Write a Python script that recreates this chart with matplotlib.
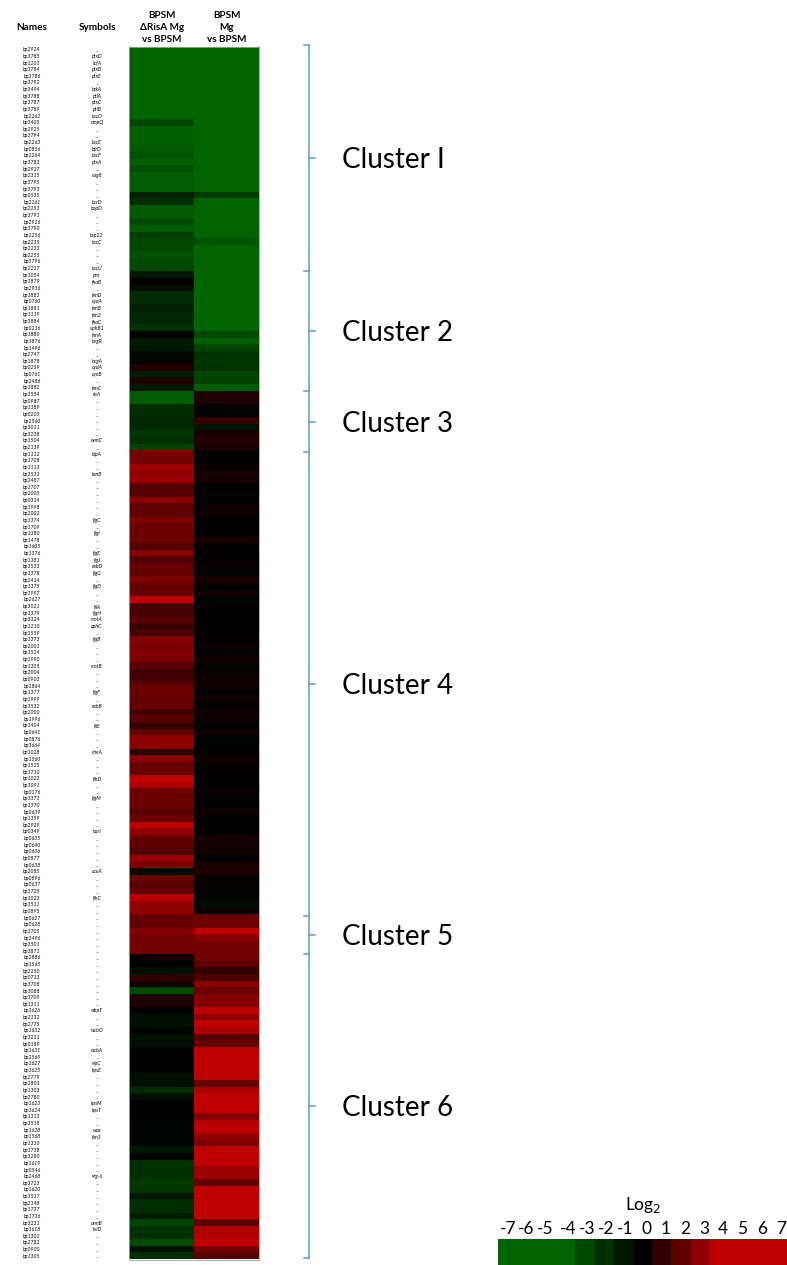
import matplotlib
matplotlib.use("Agg")
import matplotlib.pyplot as plt
import numpy as np
from matplotlib.colors import LinearSegmentedColormap, Normalize

plt.rcParams["font.family"] = ["Lato", "DejaVu Sans"]

names = [
    "bp2924", "bp3785", "bp1201", "bp3784", "bp3786", "bp3792", "bp3494", "bp3788", "bp3787", "bp3789",
    "bp2262", "bp3405", "bp2925", "bp3794", "bp2263", "bp0856", "bp2264", "bp3783", "bp2927", "bp2315",
    "bp3795", "bp3793", "bp0535", "bp2261", "bp2253", "bp3791", "bp2926", "bp3790", "bp2256", "bp2235",
    "bp2233", "bp2255", "bp3796", "bp2237", "bp1054", "bp1879", "bp2936", "bp1883", "bp0760", "bp1881",
    "bp1119", "bp1884", "bp0216", "bp1880", "bp1876", "bp1496", "bp2747", "bp1878", "bp0259", "bp0761",
    "bp2486", "bp1882", "bp3554", "bp0987", "bp1189", "bp0205", "bp2560", "bp3011", "bp3238", "bp1504",
    "bp2139", "bp1112", "bp1708", "bp1113", "bp3531", "bp2487", "bp1707", "bp2005", "bp0314", "bp1998",
    "bp2002", "bp1374", "bp1709", "bp1380", "bp1478", "bp1605", "bp1376", "bp1381", "bp3533", "bp1378",
    "bp2414", "bp1375", "bp1997", "bp2627", "bp3021", "bp1379", "bp3324", "bp1210", "bp1559", "bp1373",
    "bp2001", "bp1524", "bp1990", "bp1325", "bp2004", "bp0903", "bp1864", "bp1377", "bp1999", "bp3532",
    "bp2000", "bp1996", "bp1404", "bp0641", "bp0876", "bp3664", "bp1028", "bp1560", "bp1525", "bp1710",
    "bp1022", "bp1091", "bp0176", "bp1371", "bp1370", "bp0639", "bp1359", "bp2929", "bp0349", "bp0635",
    "bp0640", "bp0636", "bp0877", "bp0638", "bp2085", "bp0896", "bp0637", "bp3725", "bp1023", "bp3511",
    "bp0895", "bp0627", "bp0628", "bp1705", "bp2496", "bp3501", "bp3871", "bp2886", "bp1565", "bp2150",
    "bp0713", "bp3708", "bp3088", "bp3709", "bp1311", "bp1626", "bp2132", "bp2775", "bp1632", "bp3221",
    "bp0189", "bp1631", "bp2569", "bp1627", "bp1625", "bp2779", "bp2803", "bp1303", "bp2780", "bp1623",
    "bp1624", "bp1313", "bp3518", "bp1628", "bp1568", "bp1310", "bp1738", "bp3280", "bp1619", "bp0546",
    "bp2468", "bp3723", "bp1620", "bp3517", "bp2148", "bp1737", "bp1736", "bp3231", "bp1618", "bp1302",
    "bp2782", "bp0900", "bp1305",
]

symbols = [
    "–", "ptxD", "tcfA", "ptxB", "ptxE", "–", "brkA", "ptlA", "ptxC", "ptlB",
    "bscD", "ompQ", "–", "–", "bscE", "bfrD", "bscF", "ptxA", "–", "vag8",
    "–", "–", "–", "bcrD", "bopD", "–", "–", "–", "bsp22", "bscC",
    "–", "–", "–", "bscU", "prn", "fhaB", "–", "fimD", "cyoA", "fimB",
    "fim2", "fhaC", "sphB1", "fimA", "bvgR", "–", "–", "bvgA", "cydA", "cyoB",
    "–", "fimC", "risA", "–", "–", "–", "–", "–", "–", "osmC",
    "–", "bipA", "–", "–", "tonB", "–", "–", "–", "–", "–",
    "–", "flgC", "–", "flgI", "–", "–", "flgE", "flgJ", "exbD", "flgG",
    "–", "flgD", "–", "–", "fliA", "flgH", "motA", "aphC", "–", "flgB",
    "–", "–", "–", "motB", "–", "–", "–", "flgF", "–", "exbB",
    "–", "–", "fliE", "–", "–", "–", "cheA", "–", "–", "–",
    "flhD", "–", "–", "flgM", "–", "–", "–", "–", "hurI", "–",
    "–", "–", "–", "–", "aceA", "–", "–", "–", "flhC", "–",
    "–", "–", "–", "–", "–", "–", "–", "–", "–", "–",
    "–", "–", "–", "–", "–", "wbpT", "–", "–", "wcbO", "–",
    "–", "wcbA", "–", "vipC", "kpsE", "–", "–", "–", "–", "kpsM",
    "kpsT", "–", "–", "wza", "fim3", "–", "–", "–", "–", "–",
    "vrg-6", "–", "–", "–", "–", "–", "–", "osmB", "tviD", "–",
    "–", "–", "–",
]

# log2 ratio, BPSM dRisA Mg vs BPSM
risa_mg = [
    -4.0, -4.0, -4.0, -4.0, -4.0, -4.0, -4.0, -4.0, -4.0, -4.0,
    -4.0, -2.9, -3.9, -3.9, -3.9, -3.6, -3.3, -3.8, -3.2, -3.7,
    -3.7, -3.7, -1.4, -1.9, -3.6, -3.6, -3.0, -3.7, -2.5, -2.9,
    -3.0, -3.3, -3.0, -3.0, -1.0, 0.2, -0.6, -1.7, -1.7, -1.3,
    -1.6, -1.6, -2.0, 0.0, -1.0, -1.0, -0.3, -0.2, 0.7, -1.2,
    0.6, -1.0, -3.7, -3.7, -1.8, -1.8, -1.6, -1.6, -2.2, -1.9,
    -2.8, 2.5, 2.4, 3.3, 3.0, 3.2, 1.7, 1.8, 2.8, 2.0,
    2.0, 2.6, 2.2, 2.2, 2.2, 1.7, 2.9, 1.7, 2.1, 2.1,
    2.6, 2.1, 2.1, 4.0, 1.4, 1.5, 1.9, 1.2, 1.5, 2.8,
    2.5, 2.8, 2.5, 1.9, 1.3, 1.4, 2.0, 2.2, 2.1, 2.1,
    1.4, 1.9, 1.0, 2.1, 3.0, 2.9, 0.9, 2.9, 2.1, 2.1,
    4.0, 3.6, 2.2, 2.2, 2.2, 1.8, 2.3, 4.0, 3.0, 2.1,
    2.0, 1.7, 3.2, 2.5, -0.5, 2.3, 1.8, 2.1, 3.9, 3.0,
    3.0, 2.1, 2.1, 2.7, 2.4, 2.4, 2.4, 0.0, 0.0, -0.6,
    1.0, 0.4, -3.0, 0.7, 0.6, -0.1, -0.6, -0.6, -0.2, -0.8,
    -0.6, -0.1, -0.1, -0.1, -0.1, -0.6, -0.6, -1.8, -0.6, 0.0,
    0.0, 0.0, -0.2, -0.2, -0.2, -0.2, -1.0, -0.2, -1.9, -1.9,
    -1.9, -2.4, -2.2, -0.9, -1.8, -1.8, -1.2, -2.8, -2.0, -2.0,
    -3.0, -0.7, -1.9,
]

# log2 ratio, BPSM Mg vs BPSM
bpsm_mg = [
    -4.0, -4.0, -4.0, -4.0, -4.0, -4.0, -4.0, -4.0, -4.0, -4.0,
    -4.0, -4.0, -4.0, -4.0, -4.0, -4.0, -4.0, -4.0, -4.0, -4.0,
    -4.0, -4.0, -2.4, -4.0, -4.0, -4.0, -4.0, -4.0, -4.0, -3.3,
    -4.0, -4.0, -4.0, -4.0, -4.0, -4.0, -4.0, -4.0, -4.0, -4.0,
    -4.0, -4.0, -4.0, -3.0, -3.8, -2.8, -2.0, -2.2, -2.0, -2.8,
    -2.7, -3.6, 0.7, 0.7, -0.2, 0.0, 1.2, -0.8, 0.5, 0.8,
    0.6, -0.1, 0.0, 0.2, 0.5, 0.4, 0.0, -0.2, 0.0, 0.2,
    0.3, 0.0, 0.0, 0.0, 0.5, 0.1, 0.0, 0.1, 0.2, -0.1,
    0.5, 0.1, 0.4, -0.2, 0.1, 0.0, 0.0, 0.0, 0.1, 0.1,
    0.3, 0.1, 0.4, -0.2, 0.2, 0.3, 0.3, 0.0, 0.3, 0.1,
    0.3, 0.3, 0.0, 0.4, -0.2, -0.1, -0.1, 0.3, 0.1, 0.1,
    -0.1, 0.0, 0.2, 0.0, 0.0, 0.3, 0.0, 0.0, 0.0, 0.4,
    0.4, 0.4, 0.0, 0.5, 0.6, 0.0, 0.2, -0.1, -0.2, -0.5,
    0.3, 2.3, 2.3, 4.0, 2.8, 2.4, 2.4, 2.3, 1.9, 1.1,
    1.6, 2.9, 2.2, 2.7, 2.7, 4.0, 2.9, 4.0, 3.5, 1.7,
    2.1, 4.0, 4.0, 4.0, 4.0, 4.0, 2.2, 3.6, 4.0, 4.0,
    4.0, 2.7, 3.8, 4.0, 3.0, 2.6, 4.0, 4.0, 4.0, 3.2,
    3.2, 2.1, 4.0, 4.0, 4.0, 4.0, 4.0, 2.0, 3.7, 3.7,
    4.0, 2.4, 1.8,
]

legend_values = [-7, -6, -5, -4, -3, -2, -1, 0, 1, 2, 3, 4, 5, 6, 7]
legend_label_x = [508, 526, 545, 568, 587, 606.5, 625, 646.5, 665.5, 685, 704, 723, 742.5, 762, 781.5]

clusters = ["Cluster I", "Cluster 2", "Cluster 3", "Cluster 4", "Cluster 5", "Cluster 6"]
cluster_edges = [45, 271, 391, 452, 916, 954, 1258]

W, H = 787, 1265
BLUE = "#5b9bd5"

cmap = LinearSegmentedColormap.from_list("gbr", [(0, 100 / 255, 0), (0, 0, 0), (192 / 255, 0, 0)])
norm = Normalize(-4, 4)


def main():
    fig = plt.figure(figsize=(W / 100, H / 100), dpi=100)

    # heatmap
    ax = fig.add_axes([129 / W, 1 - 1259.5 / H, 130 / W, 1213 / H])
    data = np.column_stack([risa_mg, bpsm_mg])
    ax.imshow(data, aspect="auto", cmap=cmap, norm=norm, interpolation="nearest")
    ax.set_xticks([])
    ax.set_yticks([])
    for s in ax.spines.values():
        s.set_color("#9aa89a")
        s.set_linewidth(0.6)

    trans = ax.get_yaxis_transform()
    for i, (n, sym) in enumerate(zip(names, symbols)):
        ax.text(-0.746, i, n, transform=trans, ha="center", va="center", fontsize=3.7, style="italic")
        dy = 0.3 if sym == "–" else 0
        ax.text(-0.246, i + dy, sym, transform=trans, ha="center", va="center", fontsize=3.7, style="italic")

    # legend strip
    lax = fig.add_axes([498 / W, 0, 289 / W, 26 / H])
    lax.imshow(np.array(legend_values)[None, :], aspect="auto", cmap=cmap, norm=norm, interpolation="nearest")
    lax.axis("off")

    # everything else in pixel coordinates
    over = fig.add_axes([0, 0, 1, 1], facecolor="none")
    over.set_xlim(0, W)
    over.set_ylim(H, 0)
    over.axis("off")

    over.text(32, 28, "Names", ha="center", va="center", fontsize=7.2, fontweight="bold")
    over.text(97, 28, "Symbols", ha="center", va="center", fontsize=7.2, fontweight="bold")
    for y, t in zip([15, 28, 40], ["BPSM", "ΔRisA Mg", "vs BPSM"]):
        over.text(162, y, t, ha="center", va="center", fontsize=7.2, fontweight="bold")
    for y, t in zip([15, 28, 40], ["BPSM", "Mg", "vs BPSM"]):
        over.text(227, y, t, ha="center", va="center", fontsize=7.2, fontweight="bold")

    # cluster brackets
    over.plot([309, 309], [cluster_edges[0], cluster_edges[-1]], color=BLUE, lw=1.1)
    for y in cluster_edges:
        over.plot([304, 309], [y, y], color=BLUE, lw=1.1)
    for c, y0, y1 in zip(clusters, cluster_edges[:-1], cluster_edges[1:]):
        mid = (y0 + y1) / 2
        over.plot([309, 315], [mid, mid], color=BLUE, lw=1.1)
        over.text(342, mid + 2, c, ha="left", va="center", fontsize=20)

    over.text(643, 1205, "Log$_2$", ha="center", va="center", fontsize=12.5, math_fontfamily="dejavusans")
    for x, v in zip(legend_label_x, legend_values):
        over.text(x, 1229, str(v), ha="center", va="center", fontsize=12.5)

    plt.savefig("out.png", dpi=100)


if __name__ == "__main__":
    main()
